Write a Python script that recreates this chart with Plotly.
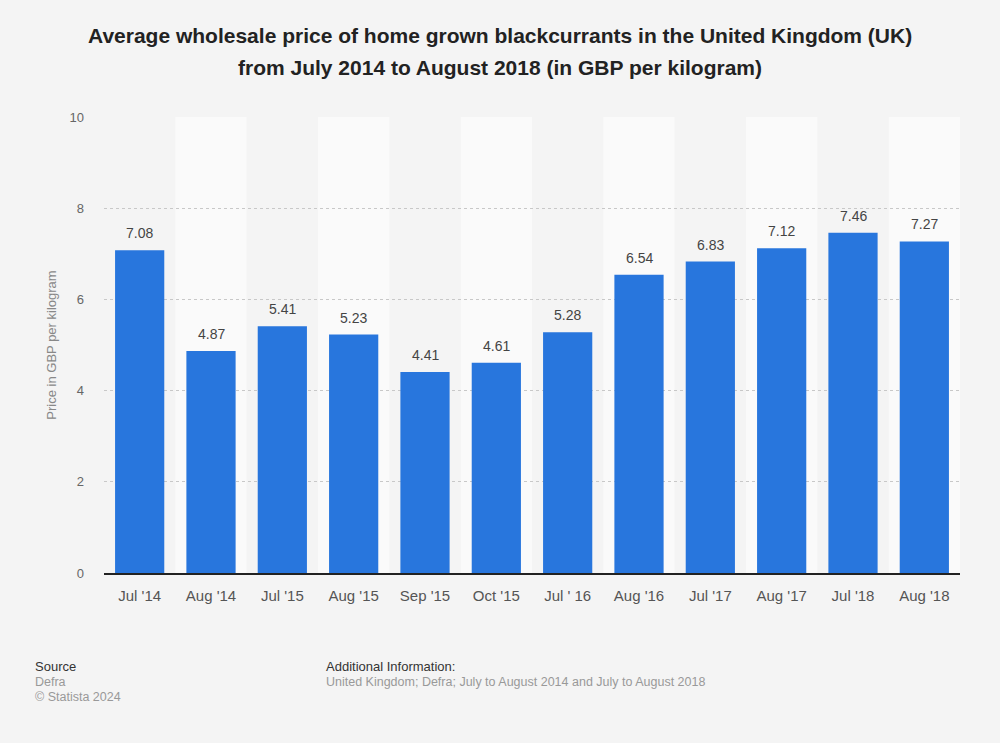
import plotly.graph_objects as go

categories = ["Jul '14", "Aug '14", "Jul '15", "Aug '15", "Sep '15", "Oct '15",
              "Jul ' 16", "Aug '16", "Jul '17", "Aug '17", "Jul '18", "Aug '18"]
prices = [7.08, 4.87, 5.41, 5.23, 4.41, 4.61, 5.28, 6.54, 6.83, 7.12, 7.46, 7.27]
y_ticks = [0, 2, 4, 6, 8, 10]

FONT = "Liberation Sans, Arial, sans-serif"
W, H = 1000, 743
L, R, T, B = 104, 40, 117, 170

fig = go.Figure()
fig.add_trace(go.Bar(
    x=categories, y=prices,
    marker=dict(color="#2876dd", line=dict(width=0)),
    width=0.69,
    hoverinfo="x+y",
))

# value labels above bars
for c, v in zip(categories, prices):
    fig.add_annotation(x=c, y=v, xref="x", yref="y", text=f"{v:.2f}",
                       showarrow=False, yanchor="middle", yshift=17,
                       font=dict(size=14, color="#444444", family=FONT))

shapes = []
for i in range(len(categories)):
    if i % 2 == 1:
        shapes.append(dict(type="rect", xref="x", yref="paper",
                           x0=i - 0.5, x1=i + 0.5, y0=0, y1=1,
                           fillcolor="#fafafa", line=dict(width=0), layer="below"))

plot_w = W - L - R
plot_h = H - T - B
def px(xp):
    return (xp - L) / plot_w
def py(yp):
    return (H - B - yp) / plot_h

fig.update_layout(
    width=W, height=H,
    paper_bgcolor="#f4f4f4", plot_bgcolor="#f4f4f4",
    margin=dict(l=L, r=R, t=T, b=B, autoexpand=False),
    font=dict(family=FONT, color="#666666"),
    bargap=0.3,
    showlegend=False,
    shapes=shapes,
    xaxis=dict(
        type="category",
        showgrid=False,
        showline=True, linecolor="#222222", linewidth=1.5,
        tickfont=dict(size=15, color="#555555"),
        ticks="", ticklabelstandoff=8,
        range=[-0.5, len(categories) - 0.5],
    ),
    yaxis=dict(
        range=[0, 10],
        tickvals=y_ticks,
        showgrid=True, gridcolor="#c8c8c8", griddash="dot", gridwidth=1,
        zeroline=False,
        tickfont=dict(size=13, color="#666666"),
        ticklabelstandoff=19,
        title=dict(text="Price in GBP per kilogram", font=dict(size=13, color="#888888"), standoff=9),
    ),
)

title_lines = [
    ("Average wholesale price of home grown blackcurrants in the United Kingdom (UK)", 35),
    ("from July 2014 to August 2018 (in GBP per kilogram)", 67),
]
for txt, yp in title_lines:
    fig.add_annotation(text=f"<b>{txt}</b>", x=px(W / 2), y=py(yp), xref="paper", yref="paper",
                       xanchor="center", yanchor="middle", showarrow=False,
                       font=dict(size=21, color="#222222", family=FONT))

footer = [
    ("Source", 33, 666, 13, "#333333"),
    ("Defra", 33, 682, 12.5, "#999999"),
    ("© Statista 2024", 33, 697, 12.5, "#999999"),
    ("Additional Information:", 324, 666, 13, "#333333"),
    ("United Kingdom; Defra; July to August 2014 and July to August 2018", 324, 682, 12.5, "#999999"),
]
for txt, xp, yp, sz, col in footer:
    fig.add_annotation(text=txt, x=px(xp), y=py(yp), xref="paper", yref="paper",
                       xanchor="left", yanchor="middle", showarrow=False,
                       font=dict(size=sz, color=col, family=FONT))

fig.write_html(
    "out.html",
    config={"displayModeBar": False},
    post_script="document.body.style.margin='0';document.body.style.background='#f4f4f4';",
)
